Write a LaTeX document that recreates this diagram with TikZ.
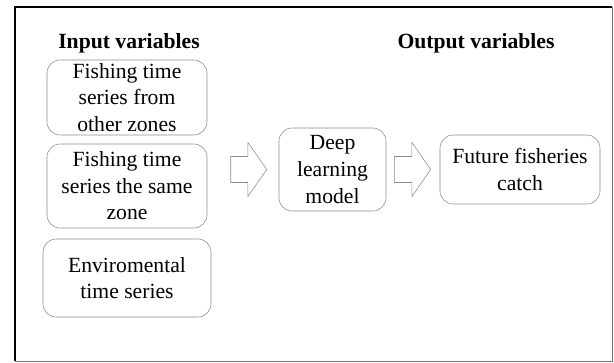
\documentclass[tikz,border=0pt]{standalone}
\usepackage{fontspec}
\setmainfont{Liberation Serif}
\usetikzlibrary{positioning}
\usetikzlibrary{calc}
\definecolor{boxgray}{gray}{.55}

% block arrow from #1 to the tip #2
\newcommand{\fatarrow}[2]{%
	\draw[arr] ($(#1)+(0,0.325)$) -- ($(#2)+(-0.47,0.325)$) -- ($(#2)+(-0.47,0.675)$) -- (#2)
		-- ($(#2)+(-0.47,-0.675)$) -- ($(#2)+(-0.47,-0.325)$) -- ($(#1)+(0,-0.325)$) -- cycle;}

\begin{document}
\begin{tikzpicture}[align=center, font=\fontsize{15.4}{18.9}\selectfont, rnode/.style={rectangle,rounded corners=0.33cm,draw=boxgray,thin,inner sep=0pt,minimum width=4cm}, arr/.style={draw=boxgray,thin,fill=white,line join=miter}]
	\useasboundingbox (0,0) rectangle (15.35,9.05);
	% \draw[help lines] (0,0) grid (15,9);
	\draw[black!55] (0.375,0.025) rectangle (15.3,8.875);
	\draw[line width=1.4pt] (0.375,0.025) -- (0.375,8.875) -- (15.3,8.875);
	\node[](inlab) at (3.225,7.975){\textbf{Input variables}};
	\node[](outlab) at (11.9,7.975){\textbf{Output variables}};
	\node[rnode, minimum height=1.875cm](oth) at (3.175,6.6125){Fishing time\\series from\\other zones};
	\node[rnode, minimum height=2.1cm](same) at (3.175,4.4){Fishing time\\series the same\\zone};
	\node[rnode, minimum width=4.2cm, minimum height=1.95cm](env) at (3.175,2.1){Enviromental\\time series};
	\node[rnode, minimum width=2.675cm, minimum height=2.075cm](dl) at (8.3125,4.8125){Deep\\learning\\model};
	\node[rnode, minimum height=1.725cm](fut) at (13.0,4.8125){Future fisheries\\catch};
	\coordinate (a1s) at ($(dl.west)+(-1.2,0)$);
	\coordinate (a1e) at ($(dl.west)+(-0.3,0)$);
	\coordinate (a2s) at ($(dl.east)+(0.2,0)$);
	\coordinate (a2e) at ($(fut.west)+(-0.225,0)$);
	\fatarrow{a1s}{a1e}
	\fatarrow{a2s}{a2e}
\end{tikzpicture}
\end{document}
